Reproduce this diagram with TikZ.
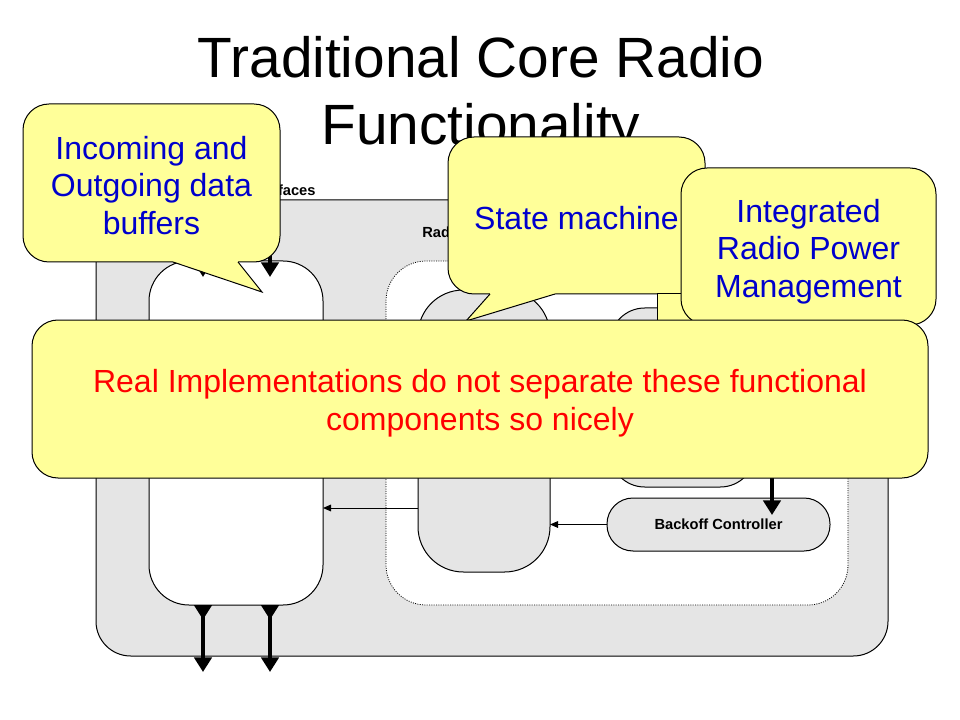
\documentclass[tikz,border=0pt]{standalone}
\usepackage{fontspec}
\setmainfont{Liberation Sans}
\usetikzlibrary{arrows.meta,calc}
\definecolor{boxgray}{RGB}{229,229,229}
\definecolor{callyellow}{RGB}{255,255,153}
\definecolor{callblue}{RGB}{0,0,204}
\definecolor{callred}{RGB}{255,0,0}
\begin{document}
\begin{tikzpicture}[x=0.75pt,y=-0.75pt,
  block/.style={draw=black, line width=0.75pt, anchor=north west, inner sep=0pt, outer sep=0pt},
  graybox/.style={block, fill=boxgray},
  whitebox/.style={block, fill=white},
  callbody/.style={draw=black, line width=0.75pt, fill=callyellow, rounded corners=19.5pt, anchor=north west, inner sep=0pt, outer sep=0pt},
  calltext/.style={inner sep=0pt, align=center, font=\fontsize{24}{28.1}\selectfont, text=callblue},
  tailedge/.style={draw=black, line width=0.75pt, line join=miter},
  lbl/.style={font=\bfseries\fontsize{11}{13}\selectfont, inner sep=0pt, anchor=base west},
  ttl/.style={font=\fontsize{42.6}{50}\selectfont, inner sep=0pt, anchor=base},
  bigarrow/.style={line width=3.2pt, -{Triangle[length=11pt,width=13pt]}},
  bigarrowtwo/.style={line width=3.2pt, {Triangle[reversed,length=11pt,width=13pt]}-{Triangle[length=11pt,width=13pt]}},
  smallarrow/.style={line width=0.75pt, -{Triangle[length=6pt,width=5pt]}}
]
\useasboundingbox (0,0) rectangle (960,720);
\fill[white] (0,0) rectangle (960,720);

% title
\node[ttl] (title1) at (481,78) {Traditional Core Radio};
\node[ttl] (title2) at (481,145) {Functionality};

% diagram
\node[graybox, rounded corners=26pt, minimum width=594pt, minimum height=342pt] (outer) at (96,200) {};
\node[lbl] (lint) at (246,196) {Interfaces};
\node[lbl] (lrad) at (422,238) {Radio};
\node[block, fill=white, densely dotted, line width=0.6pt, rounded corners=30pt, minimum width=346.5pt, minimum height=258pt] (radio) at (386,261) {};
\node[whitebox, rounded corners=30pt, minimum width=130.5pt, minimum height=258pt] (buf) at (149,261) {};
\node[graybox, rounded corners=34pt, minimum width=99pt, minimum height=211.5pt] (sm) at (418,290) {};
\node[graybox, rounded corners=26pt, minimum width=108.75pt, minimum height=134.25pt] (pm) at (610,308) {};
\node[graybox, rounded corners=19.5pt, minimum width=167.25pt, minimum height=39.75pt, font=\bfseries\fontsize{11}{13}\selectfont] (bo) at (607,498) {Backoff Controller};

% connectors
\coordinate (t1) at (203,175);
\coordinate (t2) at (270,175);
\draw[bigarrow] (t1) -- ($(buf.north west)+(54,16)$);
\draw[bigarrow] (t2) -- ($(buf.north west)+(121,16)$);
\coordinate (b1) at (203,672);
\coordinate (b2) at (270,672);
\draw[bigarrowtwo] ($(buf.south west)+(54,0)$) -- (b1);
\draw[bigarrowtwo] ($(buf.south west)+(121,0)$) -- (b2);
\coordinate (pmsrc) at (772,400);
\draw[bigarrow] (pmsrc) -- ($(bo.north west)+(165,17)$);
\coordinate (r1) at (0,508);
\draw[smallarrow] (sm.west |- r1) -- (buf.east |- r1);
\draw[smallarrow] (bo.west) -- (sm.east |- bo.west);

% callout A
\node[callbody, minimum width=192.75pt, minimum height=118.5pt] (ca) at (23,104) {};
\node[calltext] (catxt) at ($(ca.center)+(0,2.5)$) {Incoming and\\Outgoing data\\buffers};
\coordinate (catip) at (262,292);
\fill[callyellow] ($(ca.south west)+(150,-5)$) -- ($(ca.south west)+(150,0)$) -- (catip) -- ($(ca.south west)+(215,0)$) -- ($(ca.south west)+(215,-5)$) -- cycle;
\draw[tailedge] ($(ca.south west)+(150,0)$) -- (catip) -- ($(ca.south west)+(215,0)$);

% callout B
\node[callbody, minimum width=192.75pt, minimum height=117.75pt] (cb) at (448,137) {};
\node[calltext] (cbtxt) at ($(cb.center)+(0,2.5)$) {State machine};
\coordinate (cbtip) at (466,321);
\fill[callyellow] ($(cb.south west)+(42,-5)$) -- ($(cb.south west)+(42,0)$) -- (cbtip) -- ($(cb.south west)+(107,0)$) -- ($(cb.south west)+(107,-5)$) -- cycle;
\draw[tailedge] ($(cb.south west)+(42,0)$) -- (cbtip) -- ($(cb.south west)+(107,0)$);

% callout C
\fill[callyellow] (657,294) rectangle (700,335);
\draw[tailedge] (700,294) -- (657,294) -- (657,335);
\node[callbody, minimum width=191.25pt, minimum height=117.75pt] (cc) at (681,168) {};
\node[calltext] (cctxt) at ($(cc.center)+(0,5)$) {Integrated\\Radio Power\\Management};

% callout D
\node[callbody, minimum width=672pt, minimum height=118.5pt] (cd) at (32,320) {};
\node[calltext, text=callred] (cdtxt) at ($(cd.center)+(0,4)$) {Real Implementations do not separate these functional\\components so nicely};
\end{tikzpicture}
\end{document}
